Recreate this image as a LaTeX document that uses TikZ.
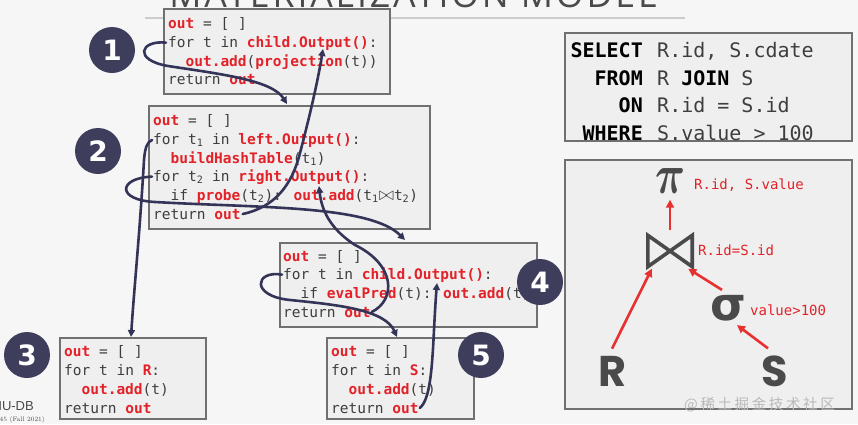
\documentclass[tikz,border=0pt]{standalone}
\usepackage{fontspec}
\usepackage{amsmath}
\usetikzlibrary{arrows.meta}
\newfontfamily\codefont{DejaVu Sans Mono}
\newfontfamily\symsans{DejaVu Sans}
\newfontfamily\bigsans{Poppins}
\newfontfamily\titlefont[LetterSpace=8]{Open Sans}
\newfontfamily\logofont{Liberation Sans}
\newfontfamily\cjkfont[LetterSpace=18]{Noto Sans CJK SC}
\definecolor{bgcol}{RGB}{246,246,246}
\definecolor{boxfill}{RGB}{239,239,239}
\definecolor{boxborder}{RGB}{112,112,112}
\definecolor{codered}{RGB}{226,34,40}
\definecolor{codegray}{RGB}{62,62,62}
\definecolor{navy}{RGB}{62,62,92}
\definecolor{navyline}{RGB}{52,52,88}
\definecolor{symgray}{RGB}{74,74,74}
\definecolor{arrred}{RGB}{232,48,48}
\newcommand\kw[1]{\textcolor{codered}{\bfseries #1}}
\newcommand\tsub[1]{t\textsubscript{#1}}
\newcommand\bowsym{\raisebox{-0.3pt}{\scalebox{1.3}{$\bowtie$}}}
\tikzset{
  codeline/.style={anchor=base west, inner sep=0pt, text=codegray,
    font=\codefont\fontsize{14.5}{17}\selectfont},
  codebox/.style={draw=boxborder, fill=boxfill, line width=1.8pt, inner sep=0pt,
    anchor=north west},
  numcirc/.style={circle, fill=navy, text=white, minimum size=46pt, inner sep=0pt,
    font=\symsans\bfseries\fontsize{28}{28}\selectfont},
  conn/.style={draw=navyline, line width=2.6pt, line cap=round,
    -{Triangle[length=7pt,width=7pt]}},
  redarr/.style={draw=arrred, line width=2.6pt, -{Triangle[length=8pt,width=8pt]}},
  sqlkw/.style={anchor=base east, inner sep=0pt, text=black,
    font=\codefont\bfseries\fontsize{20}{24}\selectfont},
  sqltxt/.style={anchor=base west, inner sep=0pt, text=codegray,
    font=\codefont\fontsize{20}{24}\selectfont},
  redlabel/.style={anchor=west, inner sep=0pt, text=codered,
    font=\codefont\fontsize{14}{16}\selectfont},
  opsym/.style={inner sep=0pt, text=symgray},
}
\begin{document}
\begin{tikzpicture}[x=1pt,y=-1pt]
\useasboundingbox (0,0) rectangle (858,424);
\fill[bgcol] (0,0) rectangle (858,424);
\begin{scope}
\clip (0,0) rectangle (858,424);
\node[anchor=base, inner sep=0pt, text=symgray] (title) at (413,7)
  {\resizebox{487pt}{!}{\titlefont MATERIALIZATION MODEL}};
\node[anchor=base east, inner sep=0pt, text=symgray,
  font=\logofont\fontsize{13}{14}\selectfont] (cmu) at (34,410) {CMU-DB};
\node[anchor=base east, inner sep=0pt, text=symgray,
  font=\rmfamily\fontsize{6.5}{7}\selectfont] (course) at (45,421) {15-445/645 (Fall 2021)};
\end{scope}
\draw[gray!40, line width=1.2pt] (145,18) -- (685,18);

% ---- box 1 : projection
\node[codebox, minimum width=226pt, minimum height=85pt] (b1) at (163,8) {};
\node[codeline] (b1l1) at (168,28) {\kw{out} = [ ]};
\node[codeline] (b1l2) at (168,47) {for t in \kw{child.Output()}:};
\node[codeline] (b1l3) at (185.4,66) {\kw{out.add}(\kw{projection}(t))};
\node[codeline] (b1l4) at (168,84) {return \kw{out}};

% ---- box 2 : join
\node[codebox, minimum width=281pt, minimum height=123pt] (b2) at (148,105) {};
\node[codeline] (b2l1) at (153,125) {\kw{out} = [ ]};
\node[codeline] (b2l2) at (153,144) {for \tsub{1} in \kw{left.Output()}:};
\node[codeline] (b2l3) at (170.4,163) {\kw{buildHashTable}(\tsub{1})};
\node[codeline] (b2l4) at (153,181) {for \tsub{2} in \kw{right.Output()}:};
\node[codeline] (b2l5) at (170.4,200) {if \kw{probe}(\tsub{2}): \kw{out.add}(\tsub{1}\bowsym\tsub{2})};
\node[codeline] (b2l6) at (153,219) {return \kw{out}};

% ---- box 4 : filter
\node[codebox, minimum width=257pt, minimum height=84pt] (b4) at (279,242) {};
\node[codeline] (b4l1) at (283,261) {\kw{out} = [ ]};
\node[codeline] (b4l2) at (283,279) {for t in \kw{child.Output()}:};
\node[codeline] (b4l3) at (300.4,298) {if \kw{evalPred}(t): \kw{out.add}(t)};
\node[codeline] (b4l4) at (283,317) {return \kw{out}};

% ---- box 3 : scan R
\node[codebox, minimum width=146pt, minimum height=81pt] (b3) at (59,337) {};
\node[codeline] (b3l1) at (64,356) {\kw{out} = [ ]};
\node[codeline] (b3l2) at (64,375) {for t in \kw{R}:};
\node[codeline] (b3l3) at (81.4,394) {\kw{out.add}(t)};
\node[codeline] (b3l4) at (64,413) {return \kw{out}};

% ---- box 5 : scan S
\node[codebox, minimum width=147pt, minimum height=81pt] (b5) at (326,337) {};
\node[codeline] (b5l1) at (331,356) {\kw{out} = [ ]};
\node[codeline] (b5l2) at (331,375) {for t in \kw{S}:};
\node[codeline] (b5l3) at (348.4,394) {\kw{out.add}(t)};
\node[codeline] (b5l4) at (331,413) {return \kw{out}};

% ---- arrow targets
\coordinate (t1) at (287,104);
\coordinate (t2) at (323,49);
\coordinate (t3) at (131,337);
\coordinate (t4) at (405,240);
\coordinate (t5) at (319,186);
\coordinate (t6) at (397,337);
\coordinate (t7) at (437,283);

% ---- control-flow connectors
\draw[conn] ([xshift=-2pt]b1l2.west) .. controls (140,40) and (133,60) .. (168,66)
  .. controls (220,74) and (272,80) .. (t1);
\draw[conn] ([xshift=2pt]b2l6.east) .. controls (275,207) and (292,185) .. (300,153)
  .. controls (310,115) and (318,80) .. (t2);
\draw[conn] ([xshift=-1pt]b2l2.west) .. controls (147,142) and (145,148) .. (144,160)
  .. controls (140,230) and (134,290) .. (t3);
\draw[conn] ([xshift=-1pt]b2l4.west) .. controls (118,178) and (116,200) .. (155,202)
  .. controls (260,208) and (370,205) .. (t4);
\draw[conn] ([xshift=1pt]b4l4.east) .. controls (396,300) and (396,265) .. (355,245)
  .. controls (335,232) and (322,215) .. (t5);
\draw[conn] ([xshift=-1pt]b4l2.west) .. controls (255,270) and (250,296) .. (290,300)
  .. controls (340,305) and (385,310) .. (t6);
\draw[conn] ([xshift=1pt]b5l4.east) .. controls (430,400) and (432,370) .. (434,330)
  .. controls (435,310) and (436,295) .. (t7);

% ---- numbered circles
\node[numcirc] (c1) at (112,50) {1};
\node[numcirc] (c2) at (98,151) {2};
\node[numcirc] (c3) at (27,355) {3};
\node[numcirc] (c4) at (540,282) {4};
\node[numcirc] (c5) at (481,355) {5};

% ---- SQL box
\node[codebox, minimum width=287pt, minimum height=108pt] (sql) at (564,32) {};
\node[sqlkw] (k1) at (643,57) {SELECT};
\node[sqltxt] (v1) at (657,57) {R.id, S.cdate};
\node[sqlkw] (k2) at (643,85) {FROM};
\node[sqltxt] (v2) at (657,85) {R \textcolor{black}{\bfseries JOIN} S};
\node[sqlkw] (k3) at (643,112) {ON};
\node[sqltxt] (v3) at (657,112) {R.id = S.id};
\node[sqlkw] (k4) at (643,140) {WHERE};
\node[sqltxt] (v4) at (657,140) {S.value > 100};

% ---- query plan box
\node[codebox, minimum width=287pt, minimum height=249pt] (plan) at (564,159) {};
\node[opsym] (proj) at (670,181) {\resizebox{30pt}{25pt}{$\boldsymbol{\pi}$}};
\node[redlabel] (projl) at (694,185) {R.id, S.value};
\node[inner sep=0pt, minimum width=44pt, minimum height=31pt] (join) at (670,251) {};
\draw[symgray, line width=3.6pt, line join=miter]
  (join.north west) -- (join.south west) -- (join.center) -- cycle
  (join.north east) -- (join.south east) -- (join.center) -- cycle;
\node[redlabel] (joinl) at (698,250) {R.id=S.id};
\node[opsym, font=\symsans\bfseries\fontsize{46}{46}\selectfont] (sigma) at (728,308) {σ};
\node[redlabel] (sigmal) at (750,310) {value>100};
\node[opsym, font=\bigsans\bfseries\fontsize{43}{43}\selectfont] (R) at (613,371) {R};
\node[opsym, font=\bigsans\bfseries\fontsize{43}{43}\selectfont] (S) at (775,371) {S};
\draw[redarr] ([yshift=5pt]join.north) -- ([yshift=-6pt]proj.south);
\draw[redarr] ([xshift=-1pt,yshift=7pt]R.north) -- ([xshift=4pt,yshift=-2pt]join.south west);
\draw[redarr] ([xshift=-6pt,yshift=5pt]sigma.north) -- ([xshift=-4pt,yshift=-2pt]join.south east);
\draw[redarr] ([xshift=-7pt,yshift=7pt]S.north) -- ([xshift=9pt,yshift=-4pt]sigma.south);
\node[anchor=west, inner sep=0pt, text=gray!55,
  font=\cjkfont\fontsize{14.5}{14.5}\selectfont] (wm) at (684,405) {@稀土掘金技术社区};
\end{tikzpicture}
\end{document}
